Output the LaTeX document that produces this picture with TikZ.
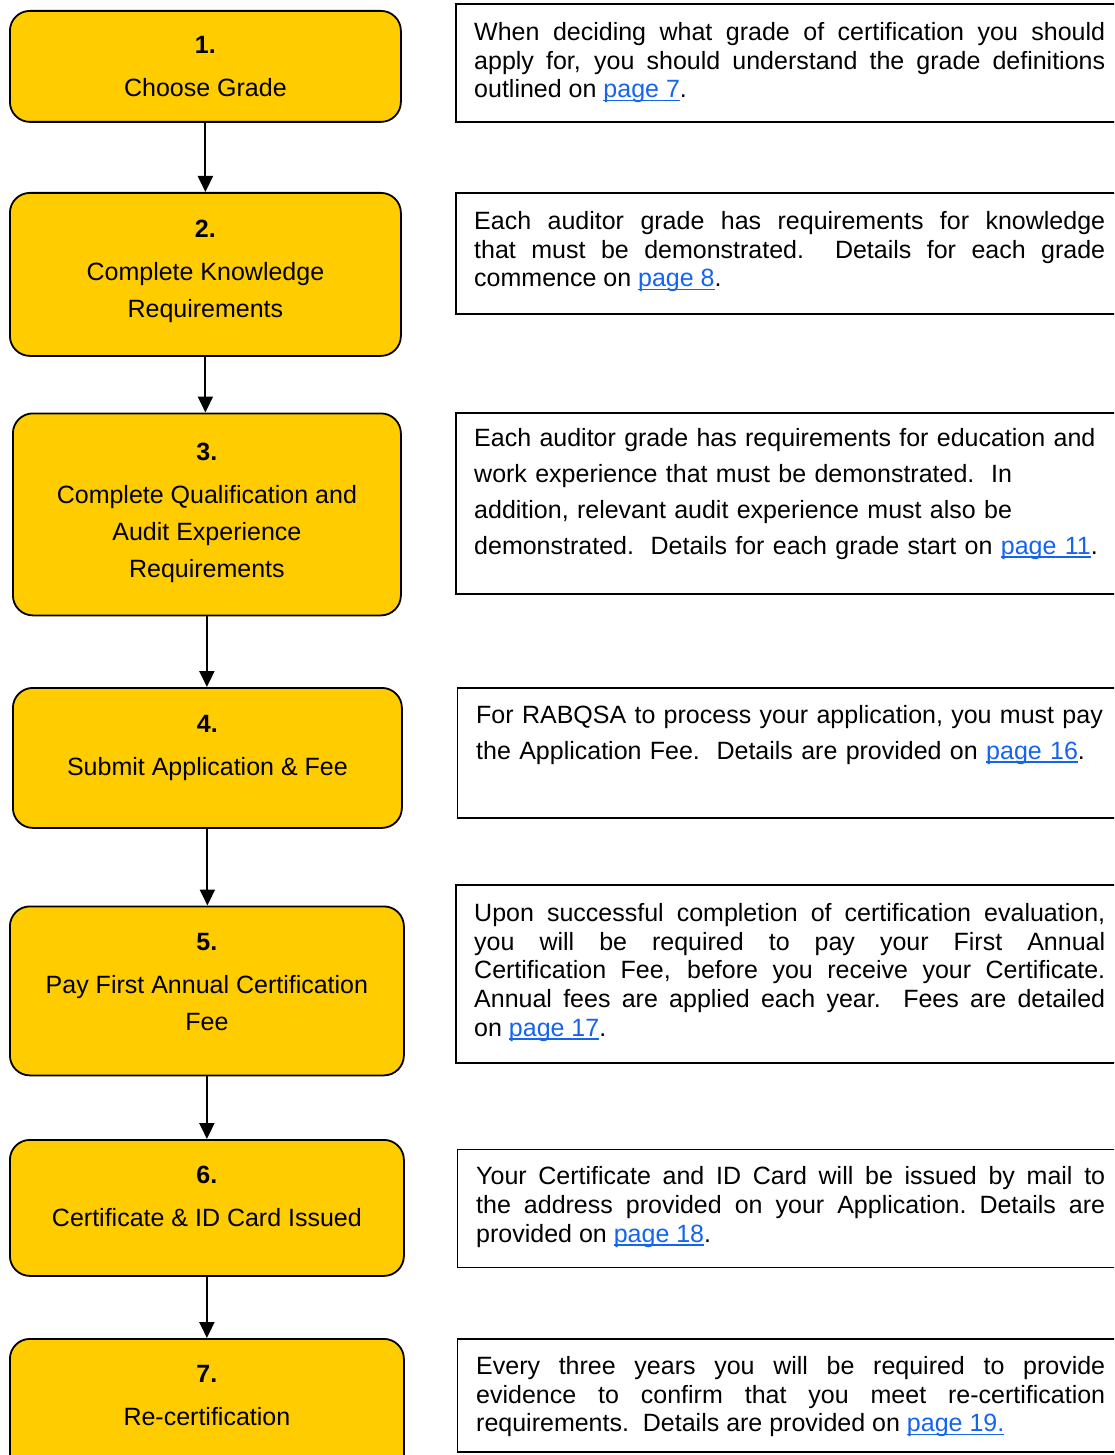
\documentclass[tikz,border=0pt]{standalone}
\usepackage{fontspec}
\setmainfont{Liberation Sans}[BoldFont={Liberation Sans Bold}]
\usetikzlibrary{positioning,arrows.meta}
\definecolor{stepyellow}{RGB}{255,204,0}
\definecolor{linkblue}{RGB}{20,100,240}
\setlength{\parindent}{0pt}
\hyphenpenalty=10000
\exhyphenpenalty=10000
\hbadness=10000
\tolerance=10000
\newcommand{\pagelink}[1]{\textcolor{linkblue}{\setbox0\hbox{#1}\rlap{\rule[-3.5pt]{\wd0}{1.8pt}}\box0}}
\begin{document}
\begin{tikzpicture}[x=1pt, y=-1pt, >={Triangle[length=16pt, width=15pt]},
    stepbox/.style={draw, line width=1.8pt, fill=stepyellow, rounded corners=20pt, inner sep=0pt, anchor=north west},
    steptext/.style={align=center, inner sep=0pt, font=\fontsize{25}{37}\selectfont},
    infobox/.style={draw, line width=1.8pt, inner sep=0pt, anchor=north west, minimum width=700pt},
    infotext/.style={inner sep=0pt, text width=631pt, align=justify, font=\fontsize{25}{28.75}\selectfont},
    raggedtext/.style={infotext, align=left, font=\fontsize{25}{36}\selectfont},
    flow/.style={->, line width=2pt}]
    \useasboundingbox (0,0) rectangle (1114,1455);
    \clip (0,0) rectangle (1114,1455);

    \node[stepbox, minimum width=391pt, minimum height=111pt] (s1) at (9,10) {};
    \node[stepbox, minimum width=391pt, minimum height=163pt] (s2) at (9,192) {};
    \node[stepbox, minimum width=388pt, minimum height=202pt] (s3) at (12,412.5) {};
    \node[stepbox, minimum width=389pt, minimum height=140pt] (s4) at (12,687) {};
    \node[stepbox, minimum width=394pt, minimum height=169pt] (s5) at (9,905.5) {};
    \node[stepbox, minimum width=394pt, minimum height=136pt] (s6) at (9,1139) {};
    \node[stepbox, minimum width=394pt, minimum height=150pt] (s7) at (9,1338) {};

    \node[steptext, below=26pt of s1.north] (n1) {\textbf{1.}\\[6pt]Choose Grade};
    \node[steptext, below=28pt of s2.north] (n2) {\textbf{2.}\\[6pt]Complete Knowledge\\Requirements};
    \node[steptext, below=30pt of s3.north] (n3) {\textbf{3.}\\[6pt]Complete Qualification and\\Audit Experience\\Requirements};
    \node[steptext, below=28pt of s4.north] (n4) {\textbf{4.}\\[6pt]Submit Application \& Fee};
    \node[steptext, below=28pt of s5.north] (n5) {\textbf{5.}\\[6pt]Pay First Annual Certification\\Fee};
    \node[steptext, below=27pt of s6.north] (n6) {\textbf{6.}\\[6pt]Certificate \& ID Card Issued};
    \node[steptext, below=27pt of s7.north] (n7) {\textbf{7.}\\[6pt]Re-certification};

    \foreach \a/\b in {s1/s2, s2/s3, s3/s4, s4/s5, s5/s6, s6/s7}
        \draw[flow] (\a.south) -- (\a.south |- \b.north);

    \node[infobox, minimum height=118pt] (t1) at (455,3) {};
    \node[infobox, minimum height=121pt] (t2) at (455,192) {};
    \node[infobox, minimum height=181pt] (t3) at (455,412) {};
    \node[infobox, minimum height=130pt] (t4) at (456.5,687) {};
    \node[infobox, minimum height=178pt] (t5) at (455,884) {};
    \node[infobox, minimum height=118pt] (t6) at (456.5,1148.5) {};
    \node[infobox, minimum height=113pt] (t7) at (456.5,1338) {};

    \node[infotext, below right=19pt and 19pt of t1.north west] (d1) {When deciding what grade of certification you should\linebreak
        apply for, you should understand the grade definitions\linebreak
        outlined on \pagelink{page 7}.};
    \node[infotext, below right=19pt and 19pt of t2.north west] (d2) {Each auditor grade has requirements for knowledge\linebreak
        that must be demonstrated.\ \ Details for each grade\linebreak
        commence on \pagelink{page 8}.};
    \node[raggedtext, below right=16pt and 19pt of t3.north west] (d3) {Each auditor grade has requirements for education and\\
        work experience that must be demonstrated.\ \ In\\
        addition, relevant audit experience must also be\\
        demonstrated.\ \ Details for each grade start on \pagelink{page 11}.};
    \node[raggedtext, below right=18pt and 19.5pt of t4.north west] (d4) {For RABQSA to process your application, you must pay\\
        the Application Fee.\ \ Details are provided on \pagelink{page 16}.};
    \node[infotext, below right=19pt and 19pt of t5.north west] (d5) {Upon successful completion of certification evaluation,\linebreak
        you will be required to pay your First Annual\linebreak
        Certification Fee, before you receive your Certificate.\linebreak
        Annual fees are applied each year.\ \ Fees are detailed\linebreak
        on \pagelink{page 17}.};
    \node[infotext, text width=629pt, below right=18pt and 19.5pt of t6.north west] (d6) {Your Certificate and ID Card will be issued by mail to\linebreak
        the address provided on your Application.\ Details are\linebreak
        provided on \pagelink{page 18}.};
    \node[infotext, text width=629pt, below right=18pt and 19.5pt of t7.north west] (d7) {Every three years you will be required to provide\linebreak
        evidence to confirm that you meet re-certification\linebreak
        requirements.\ \ Details are provided on \pagelink{page 19.}};
\end{tikzpicture}
\end{document}
